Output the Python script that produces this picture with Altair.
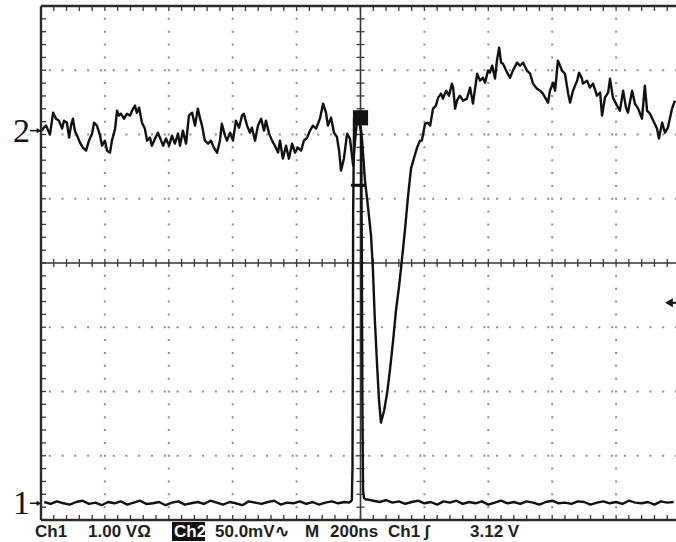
import altair as alt
import numpy as np
import pandas as pd

# Acquisition settings shown in the status bar
TIME_DIV_NS = 200        # M 200ns
CH1_V_DIV = 1.00         # Ch1 1.00 V
CH2_MV_DIV = 50.0        # Ch2 50.0 mV
TRIG_LEVEL_V = 3.12      # Ch1 rising edge trigger level
CH1_POS_DIV = -3.74      # channel ground markers, divisions from screen centre
CH2_POS_DIV = 2.06
CURSOR_DIV = 1.21        # short cursor bar on the centre line

# Channel 2 (upper trace): time [ns] relative to trigger, amplitude [mV]
ch2_t = [
    -997, -991, -984, -972, -962, -953, -944, -934, -928, -919, -912, -906, -900, -894,
    -887, -878, -869, -859, -850, -840, -834, -825, -815, -809, -800, -793, -784, -778,
    -768, -762, -756, -750, -740, -731, -721, -715, -706, -700, -693, -684, -675, -668,
    -659, -653, -643, -634, -624, -618, -609, -599, -590, -581, -571, -565, -556, -546,
    -537, -527, -518, -509, -502, -496, -487, -477, -468, -459, -449, -440, -434, -424,
    -418, -408, -399, -390, -380, -371, -365, -355, -346, -340, -330, -321, -311, -302,
    -296, -286, -277, -268, -258, -252, -243, -233, -224, -214, -205, -196, -186, -177,
    -167, -158, -149, -139, -133, -127, -117, -108, -102, -92, -83, -74, -67, -61,
    -52, -42, -33, -23, -17, -11, -2, 5, 14, 23, 33, 39, 45, 52,
    58, 64, 74, 83, 92, 102, 111, 121, 130, 139, 149, 158, 167, 177,
    186, 192, 202, 211, 218, 227, 236, 243, 252, 258, 268, 277, 286, 290,
    296, 302, 311, 321, 333, 343, 352, 365, 374, 383, 390, 399, 405, 412,
    421, 427, 434, 440, 446, 459, 468, 477, 490, 499, 509, 521, 531, 540,
    552, 562, 571, 578, 587, 593, 603, 609, 618, 631, 640, 650, 656, 665,
    678, 684, 693, 696, 709, 718, 728, 740, 750, 756, 765, 775, 781, 790,
    803, 812, 822, 831, 837, 850, 859, 869, 881, 890, 897, 906, 916, 928,
    934, 944, 953, 962, 975, 984,
]
ch2_mv = [
    0.0, 2.3, 3.9, -3.1, 14.0, 9.3, 7.8, 1.6, 7.8, 6.2, -5.4, 3.9, 9.3, 0.0,
    -3.9, -9.3, -13.2, -15.6, -7.8, -2.3, 6.2, 3.9, -3.9, -11.7, -7.8, -15.6, -17.1, -7.8,
    1.6, 15.6, 11.7, 13.2, 9.3, 13.2, 11.7, 15.6, 19.5, 14.0, 17.9, 6.2, 1.6, -7.8,
    -5.4, -11.7, -6.2, -1.6, -7.8, -11.7, -6.2, -11.7, -3.9, -10.1, -2.3, -11.7, 0.0, -10.1,
    11.7, 14.0, 3.9, 17.1, 9.3, 3.9, -7.8, -10.1, -7.8, -13.2, -17.1, -7.8, 5.4, -3.9,
    -7.8, -1.6, -7.8, 7.8, 2.3, 11.7, 13.2, 3.9, -1.6, 2.3, -7.8, 3.9, 9.3, 0.0,
    7.8, -2.3, -7.8, -11.7, -17.1, -7.8, -21.8, -11.7, -21.8, -10.1, -17.1, -13.2, -15.6, -7.8,
    -5.4, 0.0, 3.9, 1.6, 5.4, 9.3, 21.0, 14.0, 3.9, 10.1, -1.6, -4.7, -15.6, -31.1,
    -21.8, -2.3, -6.2, -27.2, -7.8, 7.8, 6.2, -7.8, -38.9, -58.4, -81.7, -108.9, -147.8, -182.8,
    -210.1, -227.2, -217.8, -204.6, -186.7, -163.4, -140.0, -120.6, -99.6, -77.8, -50.6, -29.6, -21.8, -13.2,
    -7.8, -7.8, 5.4, 6.2, 3.9, 17.1, 19.5, 25.7, 28.8, 24.9, 31.1, 27.2, 36.6, 33.5,
    17.1, 23.3, 27.2, 23.3, 24.9, 33.5, 21.0, 44.3, 38.9, 41.2, 37.3, 46.7, 45.1, 50.6,
    40.5, 54.5, 64.6, 52.9, 52.1, 45.1, 41.2, 46.7, 52.9, 50.6, 52.9, 46.7, 44.3, 36.6,
    32.7, 31.1, 28.8, 25.7, 21.8, 31.1, 37.3, 31.1, 54.5, 46.7, 44.3, 28.8, 21.8, 31.1,
    38.9, 45.1, 40.5, 36.6, 38.9, 33.5, 36.6, 27.2, 29.6, 11.7, 25.7, 29.6, 40.5, 25.7,
    19.5, 15.6, 31.1, 17.9, 14.0, 31.1, 21.0, 17.1, 9.3, 35.0, 15.6, 13.2, 7.8, 1.6,
    -6.2, 6.2, -1.6, 2.3, 17.1, 23.3,
]

# Channel 1 (lower trace): time [ns], amplitude [V]
ch1_t_pre = list(range(-990, -40, 20))
ch1_v_pre = [
    0.02, -0.01, 0.03, 0.00, -0.02, 0.02, 0.04, -0.01, 0.01, -0.03,
    0.02, 0.00, 0.03, -0.02, 0.01, 0.04, -0.01, 0.00, 0.02, -0.03,
    0.01, 0.03, -0.02, 0.00, 0.02, -0.01, 0.04, 0.01, -0.02, 0.02,
    0.00, -0.03, 0.03, 0.01, -0.01, 0.02, 0.04, -0.02, 0.01, 0.00,
    0.03, -0.01, 0.02, -0.02, 0.01, 0.03, 0.00, 0.02,
]
ch1_t_pulse = [-36, -30, -27, -25, -23, -20, -8, 2, 4, 6, 8, 11, 17]
ch1_v_pulse = [0.01, 0.03, 0.05, 0.60, 4.50, 6.00, 6.00, 5.80, 4.00, 1.50, 0.20, 0.08, 0.06]
ch1_t_post = list(range(20, 1000, 20))
ch1_v_post = [
    0.06, 0.04, 0.02, 0.05, 0.01, 0.03, -0.01, 0.02, 0.04, 0.00,
    0.02, -0.02, 0.03, 0.01, 0.04, -0.01, 0.02, 0.00, 0.03, -0.02,
    0.01, 0.04, 0.00, 0.02, -0.01, 0.03, 0.01, -0.02, 0.02, 0.04,
    0.00, 0.01, -0.01, 0.03, 0.02, -0.02, 0.01, 0.03, 0.00, 0.02,
    -0.01, 0.04, 0.01, 0.00, 0.02, -0.02, 0.03, 0.01, 0.02,
]

# ---- screen geometry -------------------------------------------------------
PLOT_W, PLOT_H = 635, 514
PX_PER_DIV_X = 63.9
PX_PER_DIV_Y = PLOT_H / 8
X_MIN = -5 * TIME_DIV_NS
X_MAX = X_MIN + PLOT_W / PX_PER_DIV_X * TIME_DIV_NS
xs = alt.Scale(domain=[X_MIN, X_MAX], nice=False, zero=False)
ys = alt.Scale(domain=[-4, 4], nice=False, zero=False)

INK = "#111111"
DOT = "#8e8e8e"

# traces in screen divisions
ch1_t = ch1_t_pre + ch1_t_pulse + ch1_t_post
ch1_v = ch1_v_pre + ch1_v_pulse + ch1_v_post
traces = pd.concat([
    pd.DataFrame({"t": ch1_t, "div": [CH1_POS_DIV + v / CH1_V_DIV for v in ch1_v], "ch": "1"}),
    pd.DataFrame({"t": ch2_t, "div": [CH2_POS_DIV + m / CH2_MV_DIV for m in ch2_mv], "ch": "2"}),
], ignore_index=True)

# graticule
major_x = [X_MIN + k * TIME_DIV_NS for k in range(1, 10) if k != 5]
major_y = [-3, -2, -1, 1, 2, 3]
minor_x = np.arange(X_MIN, X_MIN + 10 * TIME_DIV_NS + 1, TIME_DIV_NS / 5)
minor_y = np.round(np.arange(-4, 4.001, 0.2), 2)

hx = 4 / PX_PER_DIV_X * TIME_DIV_NS   # half tick length, x units
hy = 4 / PX_PER_DIV_Y                 # half tick length, y units
fx = 5 / PX_PER_DIV_X * TIME_DIV_NS
fy = 5 / PX_PER_DIV_Y
segs = []
for t in minor_x:
    segs.append((t, t, -hy, hy))
    segs.append((t, t, -4, -4 + fy))
    segs.append((t, t, 4, 4 - fy))
for d in minor_y:
    segs.append((-hx, hx, d, d))
    segs.append((X_MIN, X_MIN + fx, d, d))
ticks = pd.DataFrame(segs, columns=["x1", "x2", "y1", "y2"])

frame = pd.DataFrame(
    [(X_MIN, X_MAX, 4, 4), (X_MIN, X_MAX, -4, -4), (X_MIN, X_MIN, -4, 4)],
    columns=["x1", "x2", "y1", "y2"],
)
centre = pd.DataFrame([(X_MIN, X_MAX, 0, 0), (0, 0, -4, 4)], columns=["x1", "x2", "y1", "y2"])


def seg_layer(df, **mark):
    return alt.Chart(df).mark_rule(**mark).encode(
        x=alt.X("x1:Q", scale=xs, axis=None),
        x2="x2:Q",
        y=alt.Y("y1:Q", scale=ys, axis=None),
        y2="y2:Q",
    )


vgrid = alt.Chart(pd.DataFrame({"t": major_x})).mark_rule(
    color=DOT, strokeWidth=2, strokeDash=[2, PX_PER_DIV_Y / 5 - 2], strokeDashOffset=1
).encode(x=alt.X("t:Q", scale=xs, axis=None))
hgrid = alt.Chart(pd.DataFrame({"d": major_y})).mark_rule(
    color=DOT, strokeWidth=2, strokeDash=[2, PX_PER_DIV_X / 5 - 2], strokeDashOffset=1
).encode(y=alt.Y("d:Q", scale=ys, axis=None))

centre_lines = seg_layer(centre, color="#333333", strokeWidth=1.6)
tick_marks = seg_layer(ticks, color="#3a3a3a", strokeWidth=1.3, clip=True)
frame_lines = seg_layer(frame, color="#2a2a2a", strokeWidth=2.4)

trace_lines = alt.Chart(traces).mark_line(
    color=INK, strokeWidth=2.4, strokeJoin="round", clip=True
).encode(
    x=alt.X("t:Q", scale=xs, axis=None),
    y=alt.Y("div:Q", scale=ys, axis=None),
    detail="ch:N",
    order="t:Q",
)

# trigger position block at the top of the channel 1 pulse
t_block = alt.Chart(pd.DataFrame({"t": [0], "d": [CH1_POS_DIV + max(ch1_v) / CH1_V_DIV]})).mark_point(
    shape="square", size=230, filled=True, color=INK, opacity=1
).encode(x=alt.X("t:Q", scale=xs, axis=None), y=alt.Y("d:Q", scale=ys, axis=None))

cursor = seg_layer(pd.DataFrame([(-30, 14, CURSOR_DIV, CURSOR_DIV)], columns=["x1", "x2", "y1", "y2"]),
                   color=INK, strokeWidth=3)

# channel ground markers on the left edge
marks = pd.DataFrame({"lab": ["1", "2"], "d": [CH1_POS_DIV, CH2_POS_DIV]})
mark_text = alt.Chart(marks).mark_text(
    font="Liberation Serif", fontSize=34, align="right", baseline="middle", color="#111111", dy=1
).encode(x=alt.value(-11), y=alt.Y("d:Q", scale=ys, axis=None), text="lab:N")
mark_stem = alt.Chart(marks).mark_rule(color="#111111", strokeWidth=1.5).encode(
    x=alt.value(-11), x2=alt.value(-3), y=alt.Y("d:Q", scale=ys, axis=None)
)
mark_head = alt.Chart(marks).mark_point(shape="triangle-right", size=28, filled=True, color="#111111", opacity=1).encode(
    x=alt.value(-2), y=alt.Y("d:Q", scale=ys, axis=None)
)

# trigger level marker on the right edge
trig = pd.DataFrame({"d": [CH1_POS_DIV + TRIG_LEVEL_V / CH1_V_DIV]})
trig_head = alt.Chart(trig).mark_point(shape="triangle-left", size=80, filled=True, color="#111111", opacity=1).encode(
    x=alt.value(628), y=alt.Y("d:Q", scale=ys, axis=None)
)
trig_stem = alt.Chart(trig).mark_rule(color="#111111", strokeWidth=2).encode(
    x=alt.value(628), x2=alt.value(635), y=alt.Y("d:Q", scale=ys, axis=None)
)

# status bar
one = pd.DataFrame({"k": [0]})
STATUS_FONT = "Liberation Sans"
status_items = [
    ("Ch1", -6, "#1e1e1e"),
    (f"{CH1_V_DIV:.2f} V\u03a9", 47, "#1e1e1e"),
    ("Ch2", 133, "white"),
    (f"{CH2_MV_DIV:.1f}mV\u223f", 174, "#1e1e1e"),
    ("M", 264, "#1e1e1e"),
    (f"{TIME_DIV_NS}ns", 289, "#1e1e1e"),
    ("Ch1", 347, "#1e1e1e"),
    ("\u0283", 383, "#1e1e1e"),
    (f"{TRIG_LEVEL_V:.2f} V", 429, "#1e1e1e"),
]
ch2_box = alt.Chart(one).mark_rect(color="#111111").encode(
    x=alt.value(131), x2=alt.value(164), y=alt.value(516), y2=alt.value(535)
)
status_layers = [
    alt.Chart(one).mark_text(
        font=STATUS_FONT, fontSize=17, fontWeight="bold", align="left", baseline="alphabetic", color=col
    ).encode(x=alt.value(px), y=alt.value(531), text=alt.value(txt))
    for txt, px, col in status_items
]

chart = alt.layer(
    vgrid, hgrid, centre_lines, tick_marks, frame_lines, t_block, trace_lines, cursor,
    mark_stem, mark_head, mark_text, trig_stem, trig_head, ch2_box, *status_layers,
).properties(
    width=PLOT_W,
    height=PLOT_H,
    autosize="none",
    padding={"left": 41, "top": 6, "right": 0, "bottom": 22},
    background="white",
).configure_view(stroke=None)

chart.save("out.html", embed_options={"renderer": "svg", "actions": False})
